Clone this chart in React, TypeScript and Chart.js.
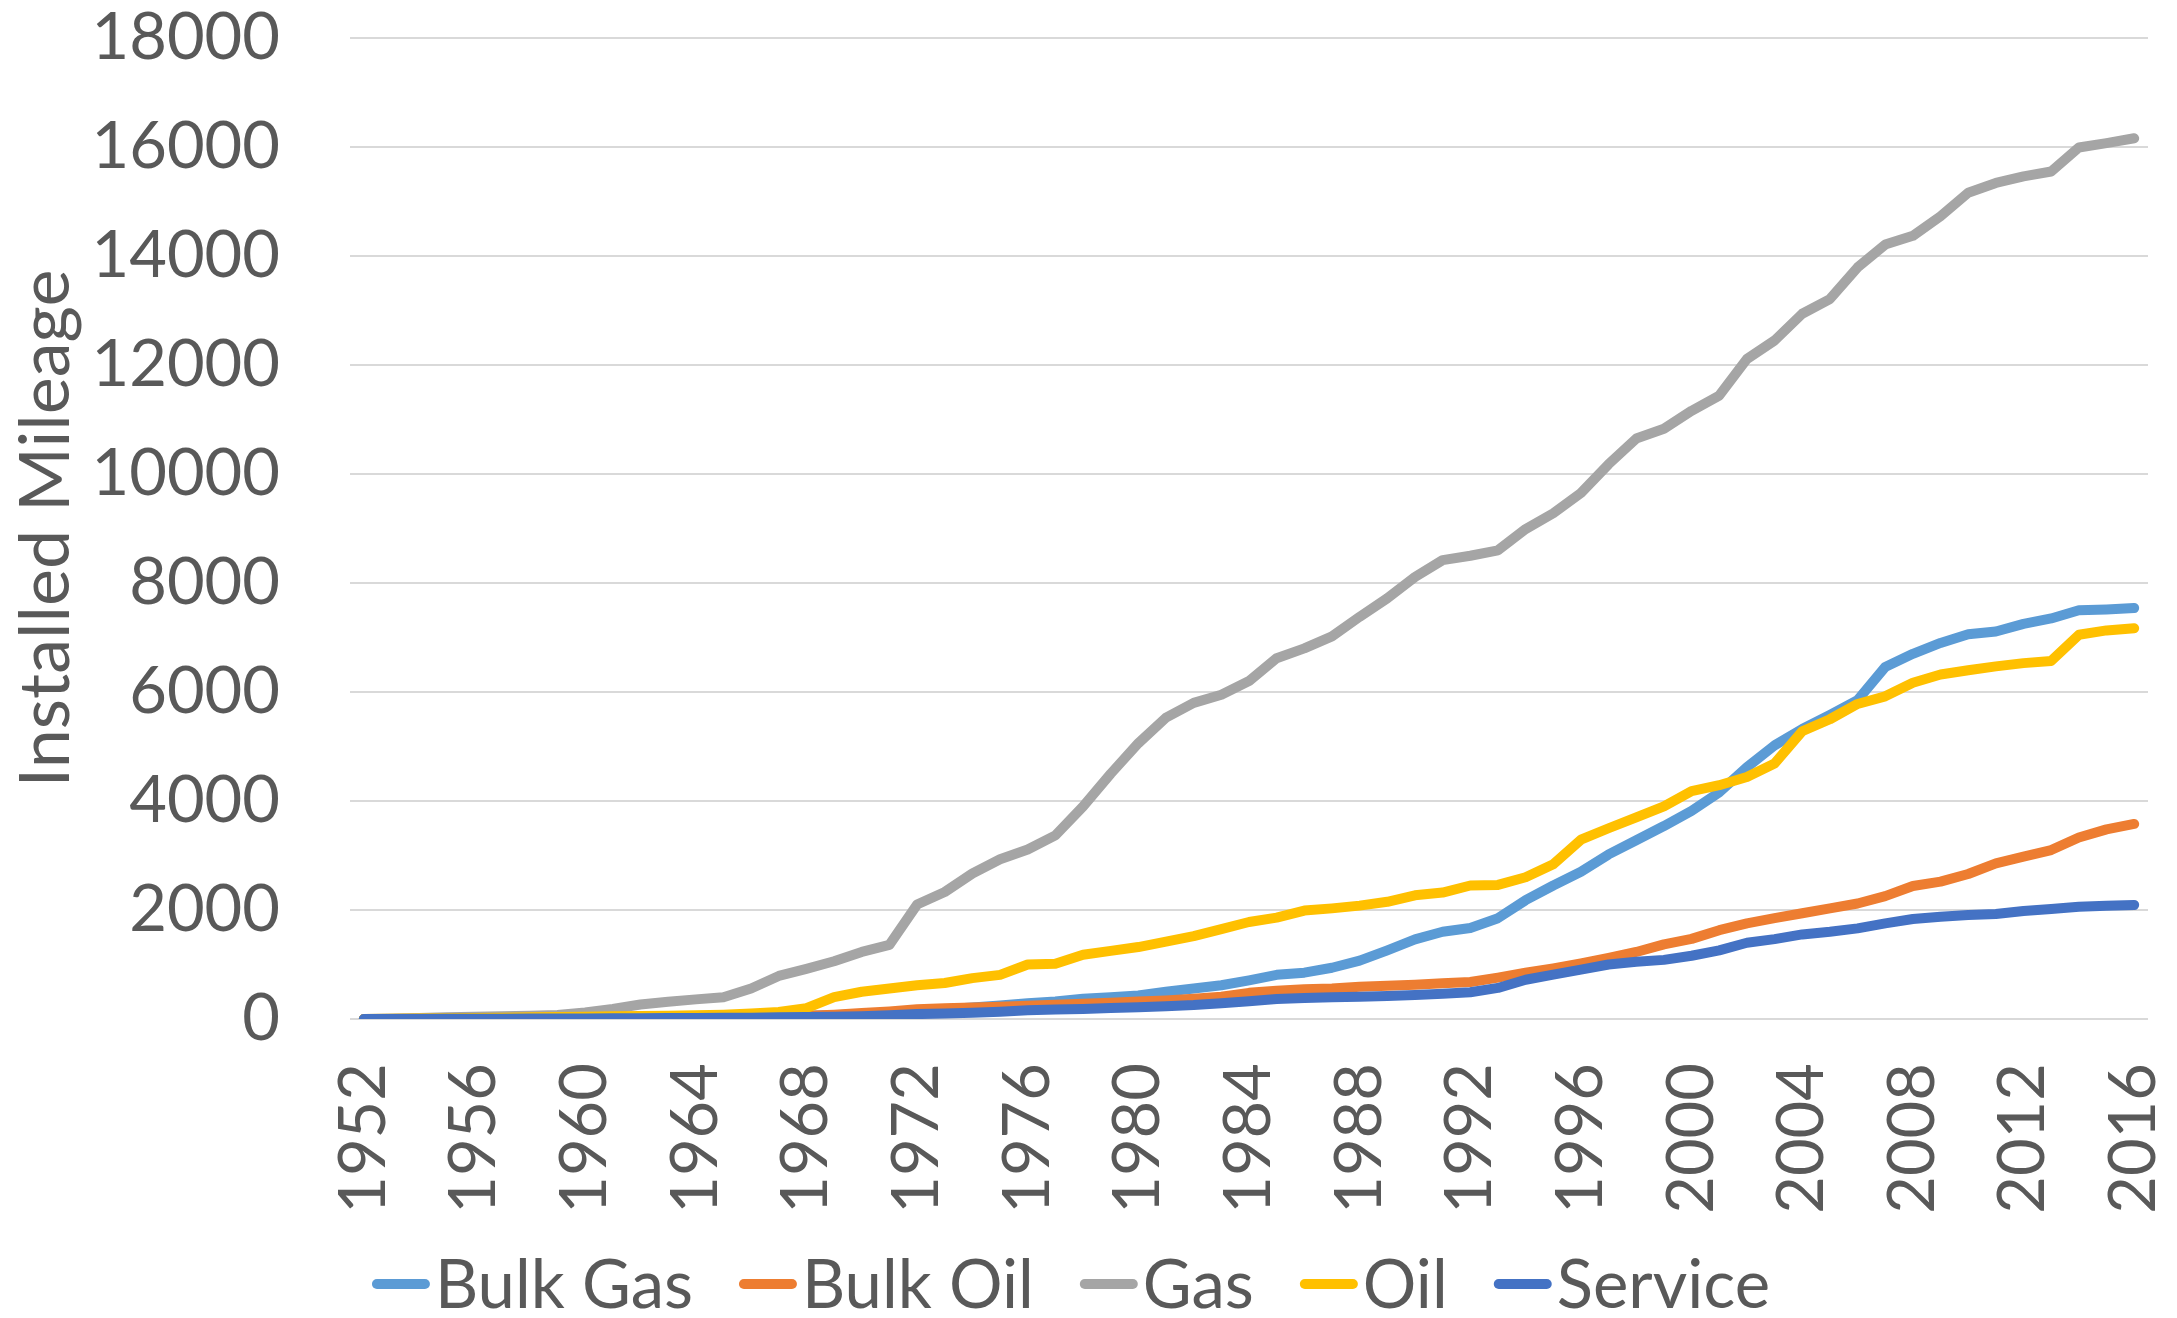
import React, { useEffect, useRef } from "react";
import { Chart, registerables } from "chart.js";

Chart.register(...registerables);

const years = [
  "1952", "1953", "1954", "1955", "1956", "1957", "1958", "1959", "1960", "1961",
  "1962", "1963", "1964", "1965", "1966", "1967", "1968", "1969", "1970", "1971",
  "1972", "1973", "1974", "1975", "1976", "1977", "1978", "1979", "1980", "1981",
  "1982", "1983", "1984", "1985", "1986", "1987", "1988", "1989", "1990", "1991",
  "1992", "1993", "1994", "1995", "1996", "1997", "1998", "1999", "2000", "2001",
  "2002", "2003", "2004", "2005", "2006", "2007", "2008", "2009", "2010", "2011",
  "2012", "2013", "2014", "2015", "2016",
];

const bulkGas = [
  0, 0, 0, 5, 5, 10, 10, 15, 15, 20, 20, 25, 30, 35,
  40, 50, 60, 70, 90, 120, 150, 180, 210, 250, 290, 320, 370, 400, 430, 500,
  560, 620, 710, 810, 850, 940, 1070, 1260, 1460, 1600, 1670, 1850, 2180, 2450,
  2700, 3020, 3280, 3540, 3820, 4160, 4620, 5020, 5320, 5580, 5850, 6460, 6700,
  6900, 7060, 7110, 7250, 7350, 7500, 7515, 7540,
];

const bulkOil = [
  0, 0, 5, 5, 10, 10, 15, 15, 20, 20, 25, 25, 30, 35,
  40, 50, 60, 80, 110, 140, 180, 195, 210, 225, 245, 260, 280, 300, 320, 340,
  370, 410, 480, 520, 545, 560, 590, 610, 630, 655, 680, 760, 850, 930,
  1020, 1120, 1230, 1370, 1470, 1630, 1755, 1850, 1940, 2030, 2120, 2255, 2440,
  2520, 2660, 2855, 2980, 3100, 3330, 3480, 3580,
];

const gas = [
  0, 10, 20, 30, 40, 50, 60, 75, 120, 185, 265, 315, 360, 400,
  560, 790, 920, 1060, 1230, 1360, 2100, 2330, 2670, 2930, 3110, 3370, 3900,
  4500, 5060, 5530, 5800, 5950, 6200, 6620, 6800, 7020, 7380, 7720, 8110, 8420,
  8500, 8600, 8990, 9280, 9650, 10180, 10650, 10830, 11160, 11440, 12110, 12450,
  12940, 13210, 13790, 14210, 14370, 14730, 15160, 15340, 15460, 15550, 15990,
  16070, 16160,
];

const oil = [
  0, 5, 10, 15, 20, 25, 30, 35, 40, 50, 55, 60, 70, 80,
  100, 130, 200, 400, 500, 560, 620, 660, 750, 810, 1000, 1015, 1180, 1250,
  1320, 1420, 1520, 1650, 1780, 1860, 1990, 2030, 2080, 2150, 2270, 2320, 2450,
  2460, 2600, 2840, 3290, 3500, 3700, 3900, 4180, 4290, 4440, 4690, 5280, 5500,
  5780, 5920, 6170, 6320, 6400, 6470, 6530, 6570, 7050, 7130, 7170,
];

const service = [
  0, 0, 0, 5, 5, 5, 10, 10, 10, 15, 15, 20, 20, 25,
  25, 30, 35, 40, 50, 70, 90, 100, 115, 135, 160, 175, 185, 200, 215, 235, 255,
  290, 325, 365, 385, 400, 410, 420, 440, 465, 490, 570, 720, 815, 905, 1000,
  1050, 1085, 1160, 1260, 1400, 1466, 1552, 1601, 1663, 1755, 1834, 1877, 1908,
  1926, 1982, 2018, 2061, 2080, 2092,
];

const seriesNames = ["Bulk Gas", "Bulk Oil", "Gas", "Oil", "Service"];
const seriesColors = ["#5B9BD5", "#ED7D31", "#A5A5A5", "#FFC000", "#4472C4"];
const seriesData = [bulkGas, bulkOil, gas, oil, service];

const yTicks = [0, 2000, 4000, 6000, 8000, 10000, 12000, 14000, 16000, 18000];
const yTitle = "Installed Mileage";

const W = 2177;
const H = 1318;
const FONT = "Lato";
const TICK_SIZE = 65;
const LEGEND_SIZE = 67;
const TITLE_SIZE = 70;
const TEXT_COLOR = "#595959";
const LINE_W = 10;

const legendPlugin = {
  id: "bottomLegend",
  afterDraw(chart: any) {
    const ctx = chart.ctx as CanvasRenderingContext2D;
    ctx.save();
    ctx.font = `${LEGEND_SIZE}px ${FONT}`;
    const marker = 58;
    const gapText = 5;
    const gapItem = 46;
    const widths = seriesNames.map((n) => ctx.measureText(n).width);
    const total =
      widths.reduce((a, b) => a + b + marker + gapText, 0) +
      gapItem * (seriesNames.length - 1);
    let x = 1071 - total / 2;
    const y = 1284;
    seriesNames.forEach((name, i) => {
      ctx.strokeStyle = seriesColors[i];
      ctx.lineWidth = LINE_W;
      ctx.lineCap = "round";
      ctx.beginPath();
      ctx.moveTo(x + LINE_W / 2, y);
      ctx.lineTo(x + marker - LINE_W / 2, y);
      ctx.stroke();
      ctx.fillStyle = TEXT_COLOR;
      ctx.textBaseline = "middle";
      ctx.textAlign = "left";
      ctx.fillText(name, x + marker + gapText, y + 2);
      x += marker + gapText + widths[i] + gapItem;
    });
    ctx.restore();
  },
};

export default function App() {
  const ref = useRef<HTMLCanvasElement | null>(null);

  useEffect(() => {
    document.body.style.margin = "0";
    const canvas = ref.current;
    if (!canvas) return;
    const chart = new Chart(canvas, {
      type: "line",
      data: {
        labels: years,
        datasets: seriesNames.map((name, i) => ({
          label: name,
          data: seriesData[i],
          borderColor: seriesColors[i],
          backgroundColor: seriesColors[i],
          borderWidth: LINE_W,
          pointRadius: 0,
          pointHoverRadius: 0,
          tension: 0,
          fill: false,
          borderCapStyle: "round" as const,
          borderJoinStyle: "round" as const,
          order: seriesNames.length - 1 - i,
        })),
      },
      options: {
        animation: false,
        responsive: false,
        maintainAspectRatio: false,
        devicePixelRatio: 1,
        layout: { padding: { top: 38, right: 29, left: 0, bottom: 0 } },
        plugins: {
          legend: { display: false },
          tooltip: { enabled: false },
          title: { display: false },
        },
        scales: {
          x: {
            type: "category",
            offset: true,
            grid: { display: false, drawTicks: false },
            border: { display: false },
            ticks: {
              autoSkip: false,
              minRotation: 90,
              maxRotation: 90,
              padding: 44,
              color: TEXT_COLOR,
              font: { family: FONT, size: TICK_SIZE },
              callback: (_v: any, idx: number) => (idx % 4 === 0 ? years[idx] : ""),
            },
            afterFit: (scale: any) => {
              scale.height = H - 1019;
              scale.paddingLeft = 0;
              scale.paddingRight = 0;
            },
          },
          y: {
            min: 0,
            max: 18000,
            afterBuildTicks: (scale: any) => {
              scale.ticks = yTicks.map((v) => ({ value: v }));
            },
            grid: { color: "#D9D9D9", lineWidth: 2, drawTicks: false },
            border: { display: false },
            ticks: {
              padding: 70,
              color: TEXT_COLOR,
              font: { family: FONT, size: TICK_SIZE },
              callback: (v: any) => String(v),
            },
            title: {
              display: true,
              text: yTitle,
              color: TEXT_COLOR,
              font: { family: FONT, size: TITLE_SIZE },
              padding: { top: 4, bottom: 0 },
            },
            afterFit: (scale: any) => {
              scale.width = 350;
              scale.paddingTop = 0;
              scale.paddingBottom = 0;
            },
          },
        },
      },
      plugins: [legendPlugin],
    });
    return () => chart.destroy();
  }, []);

  return (
    <div style={{ position: "absolute", left: 0, top: 0, width: W, height: H, background: "#fff" }}>
      <canvas ref={ref} width={W} height={H} style={{ width: W, height: H, display: "block" }} />
    </div>
  );
}
